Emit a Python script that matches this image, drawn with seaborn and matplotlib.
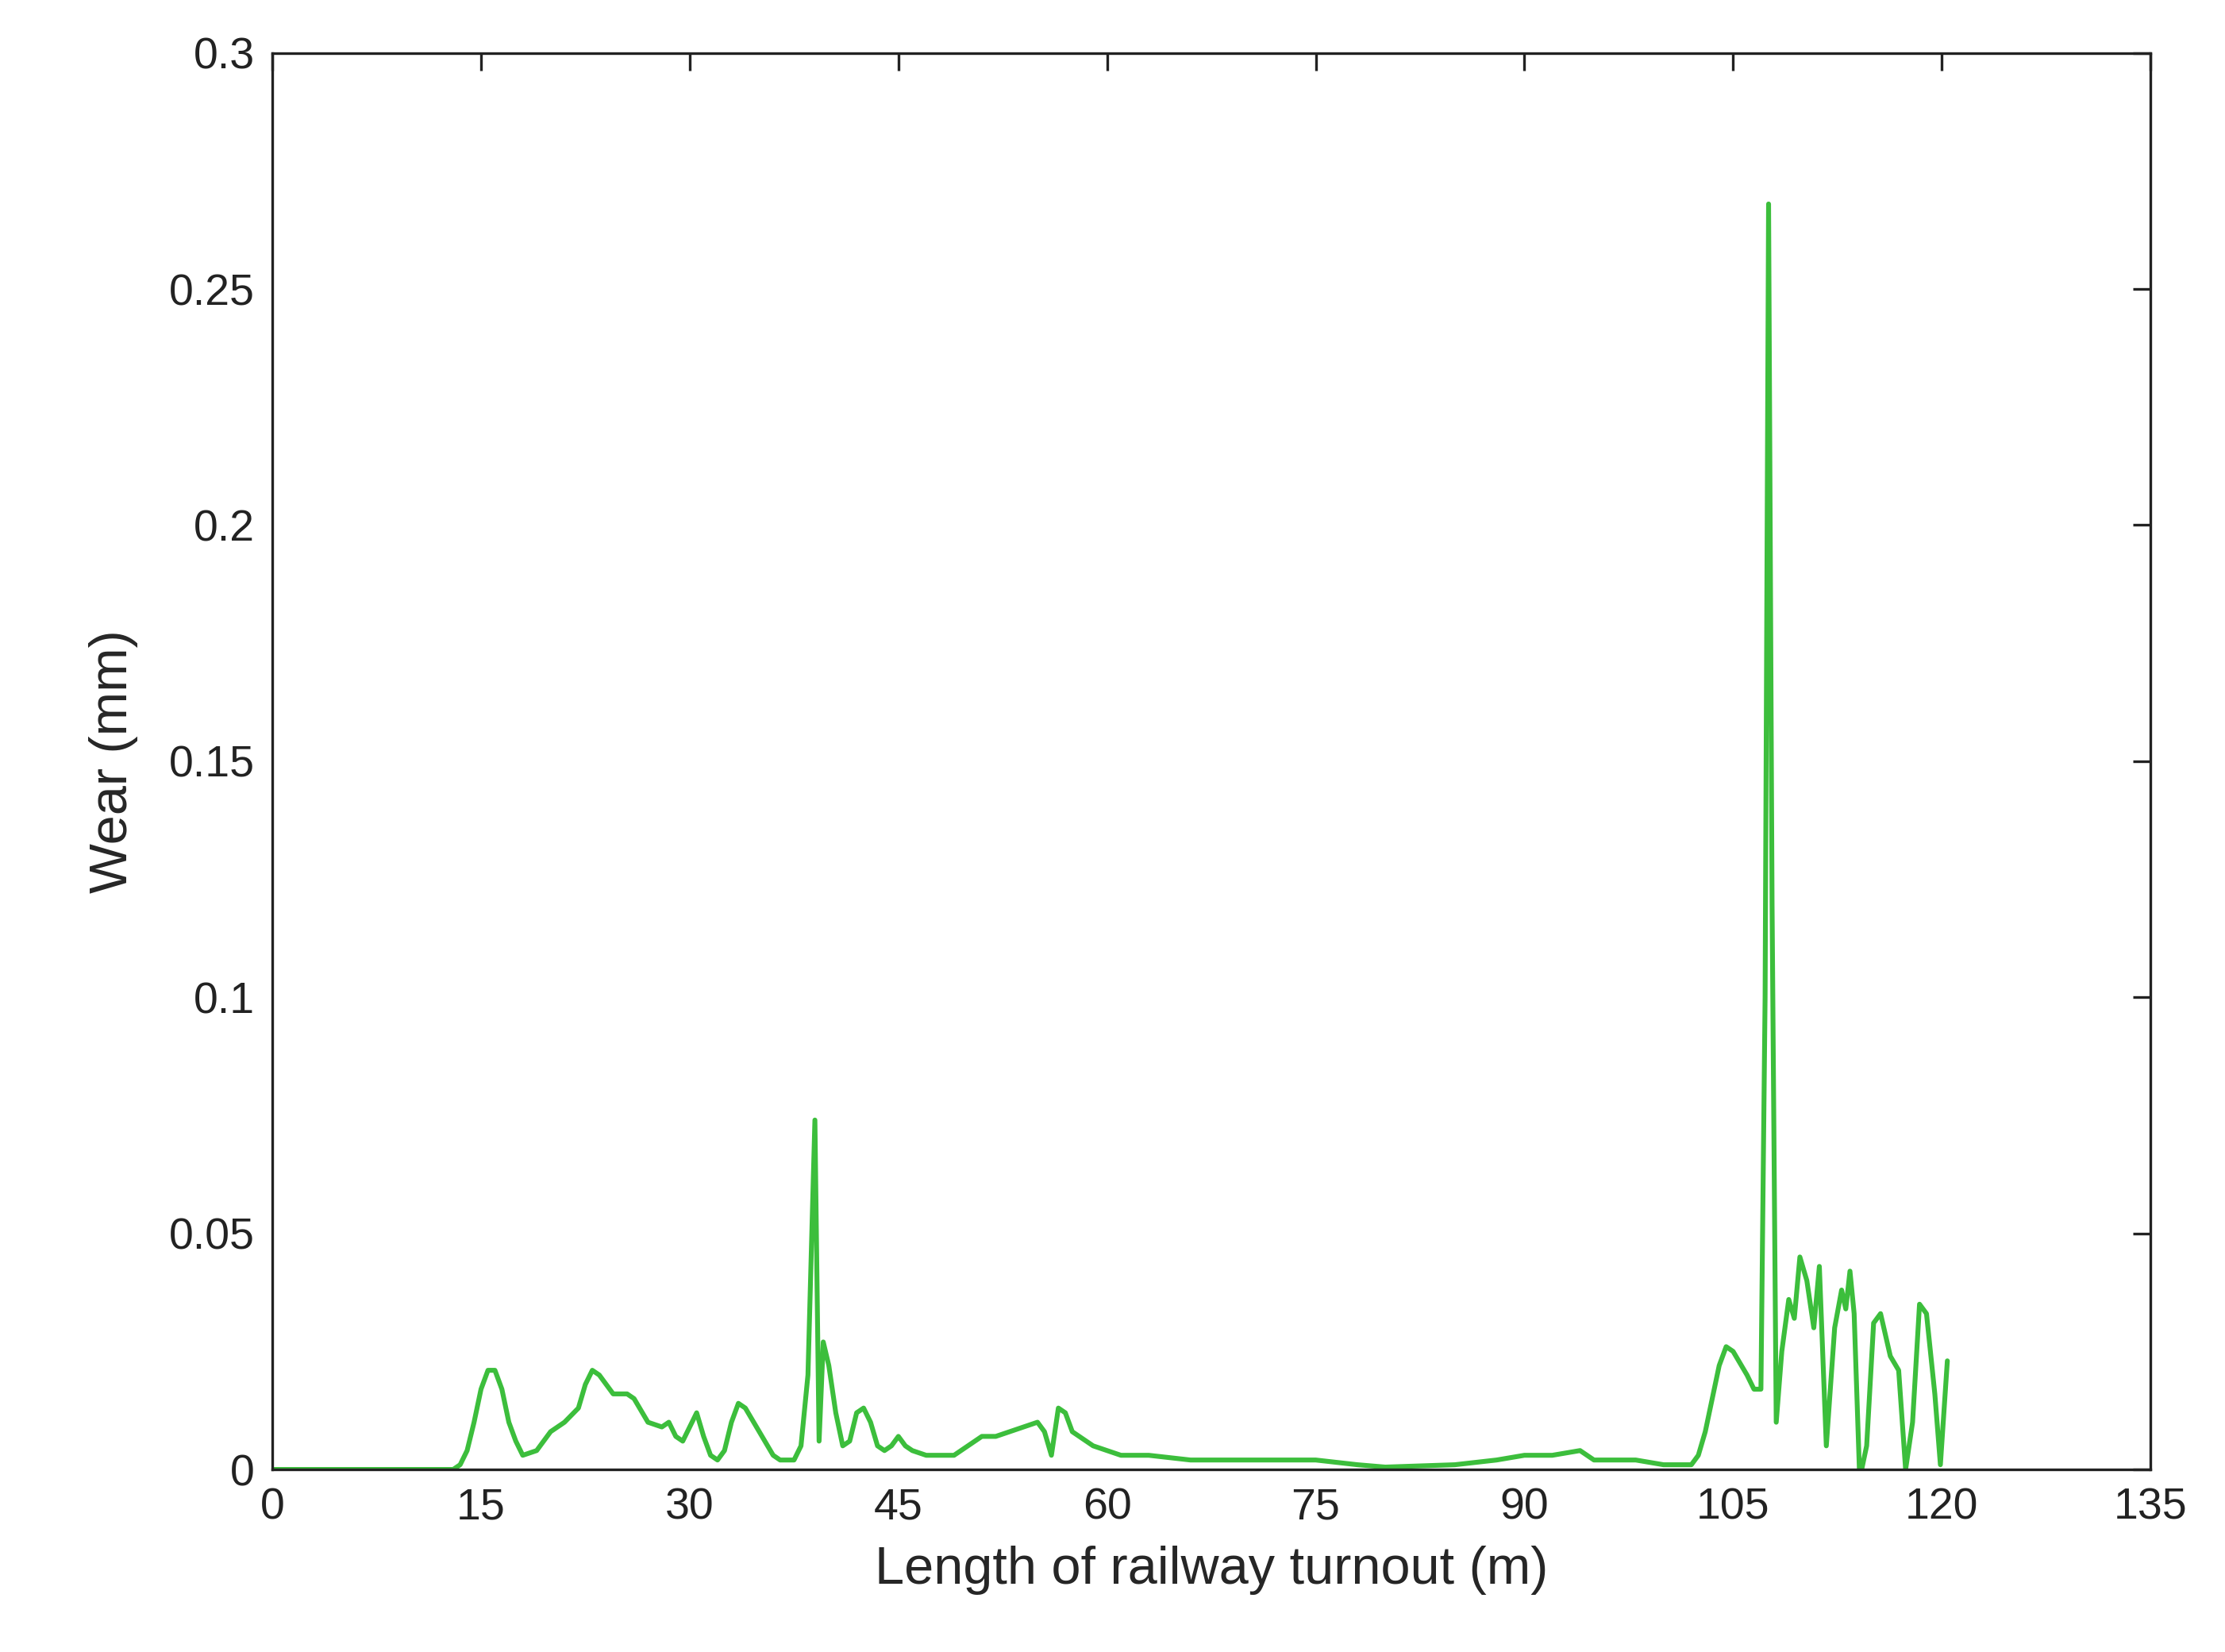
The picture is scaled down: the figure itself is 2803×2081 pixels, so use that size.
import numpy as np
import pandas as pd
import matplotlib
matplotlib.use('Agg')
import matplotlib.pyplot as plt
import seaborn as sns

# values
length_m = [0, 5, 10, 13, 13.5, 14, 14.5, 15, 15.5, 16, 16.5, 17, 17.5, 18, 19, 20, 21, 22, 22.5, 23, 23.5,
            24.5, 25.5, 26, 27, 28, 28.5, 29, 29.5, 30.5, 31, 31.5, 32, 32.5, 33, 33.5, 34, 35, 36, 36.5,
            37.5, 38, 38.5, 39, 39.3, 39.6, 40, 40.5, 41, 41.5, 42, 42.5, 43, 43.5, 44, 44.5, 45, 45.5,
            46, 47, 49, 50, 51, 52, 53, 54, 55, 55.5, 56, 56.5, 57, 57.5, 58, 59, 60, 61, 63, 66, 68, 70,
            75, 78, 80, 85, 88, 90, 92, 94, 95, 98, 100, 102, 102.5, 103, 103.5, 104, 104.5, 105, 106,
            106.5, 107, 107.3, 107.55, 107.8, 108.1, 108.5, 109, 109.4, 109.8, 110.3, 110.8, 111.2, 111.7,
            112.3, 112.8, 113.1, 113.4, 113.7, 114.1, 114.6, 115.1, 115.6, 116.3, 116.9, 117.4, 117.9,
            118.4, 118.9, 119.5, 119.9, 120.4]
wear_mm = [0, 0, 0, 0, 0.001, 0.004, 0.01, 0.017, 0.021, 0.021, 0.017, 0.01, 0.006, 0.003, 0.004, 0.008,
           0.01, 0.013, 0.018, 0.021, 0.02, 0.016, 0.016, 0.015, 0.01, 0.009, 0.01, 0.007, 0.006, 0.012,
           0.007, 0.003, 0.002, 0.004, 0.01, 0.014, 0.013, 0.008, 0.003, 0.002, 0.002, 0.005, 0.02, 0.074,
           0.006, 0.027, 0.022, 0.012, 0.005, 0.006, 0.012, 0.013, 0.01, 0.005, 0.004, 0.005, 0.007,
           0.005, 0.004, 0.003, 0.003, 0.005, 0.007, 0.007, 0.008, 0.009, 0.01, 0.008, 0.003, 0.013,
           0.012, 0.008, 0.007, 0.005, 0.004, 0.003, 0.003, 0.002, 0.002, 0.002, 0.002, 0.001, 0.0005,
           0.001, 0.002, 0.003, 0.003, 0.004, 0.002, 0.002, 0.001, 0.001, 0.003, 0.008, 0.015, 0.022,
           0.026, 0.025, 0.02, 0.017, 0.017, 0.1, 0.268, 0.12, 0.01, 0.025, 0.036, 0.032, 0.045, 0.04,
           0.03, 0.043, 0.005, 0.03, 0.038, 0.034, 0.042, 0.033, -0.002, 0.005, 0.031, 0.033, 0.024,
           0.021, 0.0, 0.01, 0.035, 0.033, 0.016, 0.001, 0.023]

df = pd.DataFrame({'x': length_m, 'y': wear_mm})

sns.set_style('white')
plt.rcParams['font.family'] = ['Liberation Sans', 'DejaVu Sans']

fig = plt.figure(figsize=(14.015, 10.405), dpi=200)
ax = fig.add_axes([0.1224, 0.1105, 0.8441, 0.8575])
sns.lineplot(data=df, x='x', y='y', ax=ax, color='#3cbe3c', linewidth=2.2, sort=False)

ax.set_xlim(0, 135)
ax.set_ylim(0, 0.3)
ax.set_xticks(np.arange(0, 136, 15))
ax.set_yticks([0, 0.05, 0.1, 0.15, 0.2, 0.25, 0.3])
ax.set_yticklabels(['0', '0.05', '0.1', '0.15', '0.2', '0.25', '0.3'])
ax.tick_params(direction='in', length=8, width=1.2, labelsize=20, top=True, right=True,
               colors='#222222', pad=8)
for s in ax.spines.values():
    s.set_color('#222222')
    s.set_linewidth(1.2)
ax.set_xlabel('Length of railway turnout (m)', fontsize=24, labelpad=8)
ax.set_ylabel('Wear (mm)', fontsize=24, labelpad=14)

fig.savefig('out.png', dpi=200)
